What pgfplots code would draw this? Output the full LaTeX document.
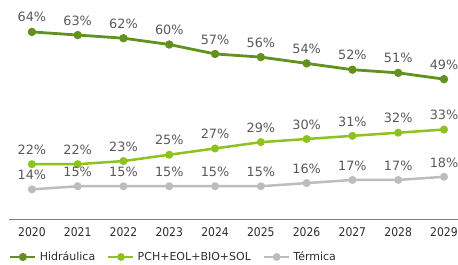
\documentclass[border=0pt]{standalone}
\usepackage{pgfplots}
\pgfplotsset{compat=1.18}
\usepackage{fontspec}
\setmainfont{DejaVu Sans}
\newfontfamily\tickfont{DejaVu Sans Condensed}
\definecolor{hidro}{RGB}{99,145,31}
\definecolor{renov}{RGB}{141,194,31}
\definecolor{term}{RGB}{189,189,189}
\definecolor{lbl}{RGB}{89,89,89}
\definecolor{tck}{RGB}{45,45,45}
\definecolor{axl}{RGB}{128,128,128}
\begin{document}
\begin{tikzpicture}[x=1bp,y=1bp]
\begin{axis}[
  scale only axis,
  width=449bp, height=218.6bp,
  xmin=2019.5, xmax=2029.306,
  ymin=4.6, ymax=74,
  axis x line=bottom, axis y line=none,
  x axis line style={draw=axl, line width=1bp, -},
  xtick={2020,...,2029},
  xticklabels={2020,2021,2022,2023,2024,2025,2026,2027,2028,2029},
  major tick length=0pt,
  xticklabel style={font=\tickfont\fontsize{12bp}{14bp}\selectfont, text=tck, yshift=-5bp},
  clip=false,
  point meta=y,
  nodes near coords={\pgfmathprintnumber[assume math mode=true]{\pgfplotspointmeta}\%},
  every node near coord/.append style={font=\fontsize{12.8bp}{14bp}\selectfont, text=lbl, anchor=south, yshift=5bp},
  legend columns=3,
  legend style={draw=none, fill=none, inner sep=0pt, outer sep=0pt,
    at={(axis description cs:0,0)}, anchor=west, yshift=-38bp,
    nodes={inner sep=0pt, text=tck, font=\fontsize{11bp}{13bp}\selectfont},
    /tikz/every odd column/.append style={column sep=3bp},
    /tikz/every even column/.append style={column sep=12bp}},
  legend image code/.code={\draw (0bp,0bp) -- (25bp,0bp); \fill (12.5bp,0bp) circle (2.6bp);},
]
\addplot[hidro, line width=2.8bp, mark=*, mark size=2.7bp, mark options={solid}] coordinates {
(2020,64) (2021,63) (2022,62) (2023,60) (2024,57) (2025,56) (2026,54) (2027,52) (2028,51) (2029,49)};
\addlegendentry{Hidráulica}
\addplot[renov, line width=2.5bp, mark=*, mark size=2.7bp, mark options={solid}] coordinates {
(2020,22) (2021,22) (2022,23) (2023,25) (2024,27) (2025,29) (2026,30) (2027,31) (2028,32) (2029,33)};
\addlegendentry{PCH+EOL+BIO+SOL}
\addplot[term, line width=2.5bp, mark=*, mark size=2.7bp, mark options={solid}] coordinates {
(2020,14) (2021,15) (2022,15) (2023,15) (2024,15) (2025,15) (2026,16) (2027,17) (2028,17) (2029,18)};
\addlegendentry{Térmica}
\coordinate (bl) at (rel axis cs:0,0);
\end{axis}
\pgfresetboundingbox
\path ([shift={(-9bp,-46bp)}]bl) rectangle ([shift={(449bp,219bp)}]bl);
\end{tikzpicture}
\end{document}
